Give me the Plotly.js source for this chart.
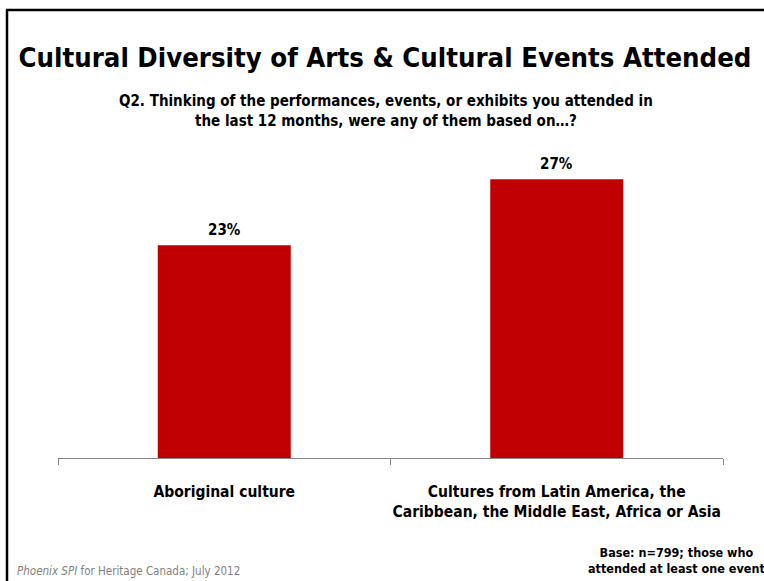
<!DOCTYPE html>
<html>
<head>
<meta charset="utf-8">
<script src="https://cdn.plot.ly/plotly-3.0.1.min.js"></script>
<style>html,body{margin:0;padding:0;background:#fff;}#chart{width:764px;height:581px;}</style>
</head>
<body>
<div id="chart"></div>
<script>
// Data
const categories = ["Aboriginal culture", "Cultures from Latin America, the<br>Caribbean, the Middle East, Africa or Asia"];
const values = [23, 27];
const valueLabels = ["23%", "27%"];

const titleText = "Cultural Diversity of Arts & Cultural Events Attended";
const subtitleText = "Q2. Thinking of the performances, events, or exhibits you attended in<br>the last 12 months, were any of them based on…?";
const sourceText = "<i>Phoenix SPI</i> for Heritage Canada; July 2012";
const baseText = "Base: n=799; those who<br>attended at least one event";

const FONT = '"DejaVu Sans Condensed", "Roboto", sans-serif';
const L = 58, R = 41, T = 140, B = 123, W = 764, H = 581;
const plotW = W - L - R, plotH = H - T - B;
const px2x = p => (p - L) / plotW;
const py2y = p => (H - B - p) / plotH;

const trace = {
  type: 'bar',
  x: categories,
  y: values,
  marker: {color: '#C00000'},
  hoverinfo: 'skip'
};

const annotations = categories.map((c, i) => ({
  x: c, y: values[i], xref: 'x', yref: 'y',
  text: '<b>' + valueLabels[i] + '</b>',
  showarrow: false, yanchor: 'bottom', yshift: 4,
  font: {family: FONT, size: 15, color: '#000'}
}));

annotations.push({
  xref: 'paper', yref: 'paper', x: px2x(386), y: py2y(111),
  xanchor: 'center', yanchor: 'middle', align: 'center',
  text: '<b>' + subtitleText + '</b>', showarrow: false,
  font: {family: FONT, size: 15, color: '#000'}
});
annotations.push({
  xref: 'paper', yref: 'paper', x: px2x(15), y: py2y(571),
  xanchor: 'left', yanchor: 'middle', align: 'left',
  text: sourceText, showarrow: false,
  font: {family: FONT, size: 11.5, color: '#7f7f7f'}
});
annotations.push({
  xref: 'paper', yref: 'paper', x: px2x(676), y: py2y(560),
  xanchor: 'center', yanchor: 'middle', align: 'center',
  text: '<b>' + baseText + '</b>', showarrow: false,
  font: {family: FONT, size: 12.5, color: '#000'}
});

const layout = {
  width: W, height: H,
  margin: {l: L, r: R, t: T, b: B, pad: 0},
  paper_bgcolor: '#fff', plot_bgcolor: '#fff',
  showlegend: false,
  bargap: 0.6,
  title: {
    text: '<b>' + titleText + '</b>',
    xref: 'container', yref: 'container',
    x: 385 / W, y: 1 - 57 / H, xanchor: 'center', yanchor: 'middle',
    font: {family: FONT, size: 27.3, color: '#000'}
  },
  xaxis: {
    type: 'category', range: [-0.5, 1.5],
    showline: true, linecolor: '#868686', linewidth: 1,
    ticks: 'outside', tickson: 'boundaries', ticklen: 6, tickcolor: '#868686',
    showgrid: false, zeroline: false, tickangle: 0,
    ticklabelstandoff: 19,
    tickfont: {family: FONT, size: 15.5, color: '#000'},
    tickprefix: '<b>', ticksuffix: '</b>'
  },
  yaxis: {range: [10.1, 10.1 + plotH / 16.5], visible: false, showgrid: false, zeroline: false},
  annotations: annotations,
  shapes: [
    {type: 'line', xref: 'paper', yref: 'paper', x0: px2x(7), x1: px2x(7), y0: py2y(10), y1: py2y(600), line: {color: '#000', width: 2.5}},
    {type: 'line', xref: 'paper', yref: 'paper', x0: px2x(6), x1: px2x(780), y0: py2y(10), y1: py2y(10), line: {color: '#000', width: 2.5}}
  ]
};

Plotly.newPlot('chart', [trace], layout, {displayModeBar: false, staticPlot: true});
</script>
</body>
</html>
